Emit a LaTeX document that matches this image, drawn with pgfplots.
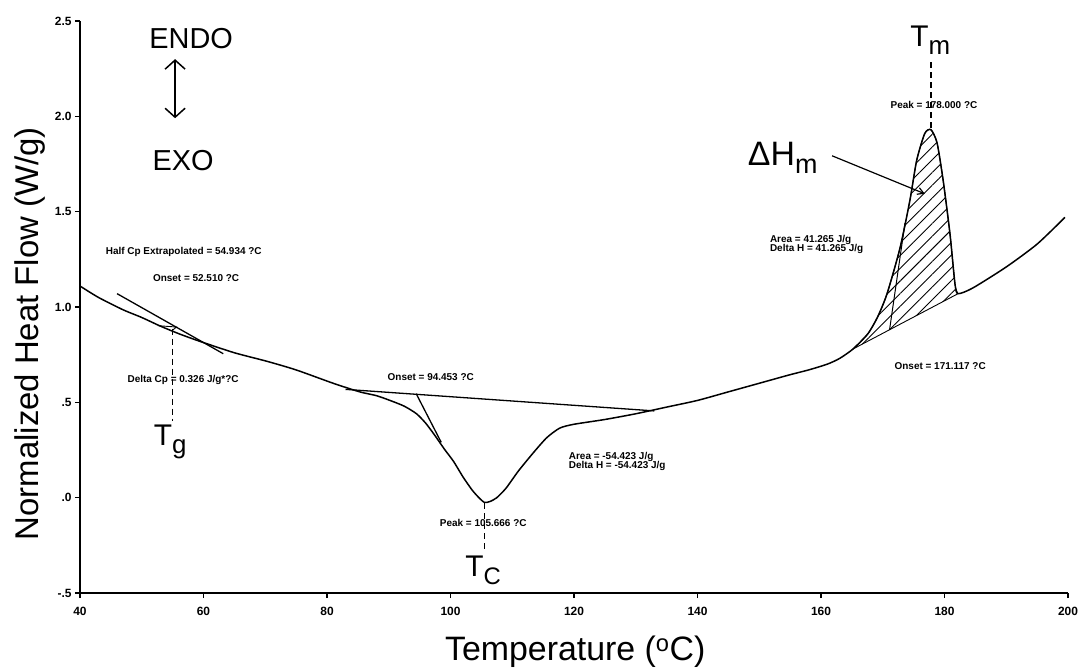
\documentclass[border=0pt]{standalone}
\usepackage{fontspec}
\setmainfont{Liberation Sans}
\usepackage{pgfplots}
\pgfplotsset{compat=1.18}
\usetikzlibrary{patterns.meta,arrows.meta}
\begin{document}
\begin{tikzpicture}
\begin{axis}[
  scale only axis, width=988bp, height=572bp,
  xmin=40, xmax=200, ymin=-0.5, ymax=2.5,
  axis lines=left, axis line style={-, line width=1.6bp},
  tick align=outside, major tick length=5bp,
  tick style={line width=1.2bp, black},
  xtick={40,60,...,200},
  ytick={-0.5,0,0.5,1,1.5,2,2.5},
  yticklabels={-.5,.0,.5,1.0,1.5,2.0,2.5},
  /pgf/number format/assume math mode=true,
  ticklabel style={font=\fontsize{12}{14}\selectfont\bfseries},
  xticklabel style={yshift=-6bp},
  clip=false,
]
% main DSC curve
\addplot[black, line width=1.5bp, smooth, tension=0.4] coordinates {
(40,1.11) (43,1.05) (47,0.985) (50,0.945) (53,0.90) (56,0.86) (59.4,0.82)
(65,0.76) (70.3,0.715) (75,0.67) (81,0.60) (85.3,0.555) (88,0.535) (90.2,0.51)
(92.5,0.48) (94.5,0.44) (96,0.39) (97.5,0.325) (99,0.255) (100.5,0.19)
(102,0.11) (103.5,0.04) (104.6,0.0) (105.5,-0.025) (106.4,-0.02) (107.5,0.0)
(109,0.05) (111,0.14)
(113.4,0.235) (115.6,0.315) (117.7,0.365) (120,0.385) (125,0.41) (130,0.44)
(135,0.475) (140,0.51) (145,0.555) (150,0.60) (155,0.645) (158,0.67)
(161,0.70) (163,0.73) (165.2,0.78) (167.6,0.86) (169.2,0.95) (170.7,1.07)
(172.8,1.31) (174.4,1.56) (175.5,1.77) (176.8,1.91) (177.8,1.93) (178.8,1.86)
(179.8,1.66) (180.9,1.38) (181.7,1.12) (182.2,1.07) (184.6,1.10) (190,1.21)
(195,1.33) (199.5,1.47)
};
% hatched melting area
\addplot[draw=black, line width=0.9bp, pattern={Lines[angle=45,distance=9bp,line width=0.9bp]}, smooth, tension=0.4] coordinates {
(165.2,0.78) (167.6,0.86) (169.2,0.95) (170.7,1.07) (172.8,1.31) (174.4,1.56)
(175.5,1.77) (176.8,1.91) (177.8,1.93) (178.8,1.86) (179.8,1.66) (180.9,1.38)
(181.7,1.12) (182.2,1.07)
} -- cycle;
% melt onset tangent
\addplot[black, line width=1bp] coordinates {(171.1,0.88) (173.6,1.44)};
% crystallisation baseline and onset tangent
\addplot[black, line width=1.3bp] coordinates {(83,0.568) (133,0.455)};
\addplot[black, line width=1.3bp] coordinates {(94.45,0.545) (98.5,0.29)};
% glass transition tangent and marker
\addplot[black, line width=1.3bp] coordinates {(46,1.07) (63.2,0.755)};
\addplot[black, line width=0.9bp] coordinates {(52.6,0.902) (55.6,0.895) (54.9,0.875)};
% dashed markers
\addplot[black, line width=1.6bp, dash pattern=on 6bp off 4bp] coordinates {(55.0,0.886) (55.0,0.40)};
\addplot[black, line width=1.6bp, dash pattern=on 6bp off 4bp] coordinates {(105.5,-0.03) (105.5,-0.28)};
\addplot[black, line width=1.6bp, dash pattern=on 6bp off 4bp] coordinates {(177.8,1.94) (177.8,2.29)};
% endo/exo arrow
\addplot[black, line width=1.5bp, {Straight Barb[length=9bp,width=20bp,line width=1.5bp]}-{Straight Barb[length=9bp,width=20bp,line width=1.5bp]}] coordinates {(55.4,2.30) (55.4,1.99)};
% Delta H_m pointer
\addplot[black, line width=1.2bp, -{Straight Barb[length=6bp,width=7bp]}] coordinates {(161.8,1.793) (176.8,1.594)};

% texts
\node[font=\fontsize{29}{32}\selectfont] at (axis cs:58,2.41) {ENDO};
\node[font=\fontsize{29}{32}\selectfont] at (axis cs:56.7,1.767) {EXO};
\begin{scope}[every node/.style={font=\fontsize{10}{11}\selectfont\bfseries}]
\node at (axis cs:56.8,1.29) {Half Cp Extrapolated = 54.934 ?C};
\node at (axis cs:58.8,1.154) {Onset = 52.510 ?C};
\node at (axis cs:56.7,0.62) {Delta Cp = 0.326 J/g*?C};
\node at (axis cs:96.8,0.63) {Onset = 94.453 ?C};
\node at (axis cs:105.3,-0.13) {Peak = 105.666 ?C};
\node[align=left] at (axis cs:127,0.19) {Area = -54.423 J/g\\[-2bp]Delta H = -54.423 J/g};
\node[align=left] at (axis cs:159.3,1.33) {Area = 41.265 J/g\\[-2bp]Delta H = 41.265 J/g};
\node at (axis cs:178.3,2.06) {Peak = 178.000 ?C};
\node at (axis cs:179.3,0.69) {Onset = 171.117 ?C};
\end{scope}
\node[font=\fontsize{30}{32}\selectfont] at (axis cs:54.6,0.29) {T\raisebox{-8bp}{\fontsize{26}{28}\selectfont g}};
\node[font=\fontsize{30}{32}\selectfont] at (axis cs:105.3,-0.38) {T\raisebox{-8bp}{\fontsize{24}{26}\selectfont C}};
\node[font=\fontsize{30}{32}\selectfont] at (axis cs:177.7,2.40) {T\raisebox{-8bp}{\fontsize{26}{28}\selectfont m}};
\node[font=\fontsize{34}{36}\selectfont] at (axis cs:153.8,1.78) {ΔH\raisebox{-8bp}{\fontsize{27}{29}\selectfont m}};
\node[font=\fontsize{34}{36}\selectfont] at (axis cs:120.2,-0.81) {Temperature (\textsuperscript{o}C)};
\node[font=\fontsize{33}{35}\selectfont, rotate=90] at (axis cs:31.9,0.86) {Normalized Heat Flow (W/g)};
\end{axis}
\pgfresetboundingbox
\path[use as bounding box] ([xshift=-80bp,yshift=-79bp]current axis.south west) rectangle ([xshift=11bp,yshift=21bp]current axis.north east);
\end{tikzpicture}
\end{document}
